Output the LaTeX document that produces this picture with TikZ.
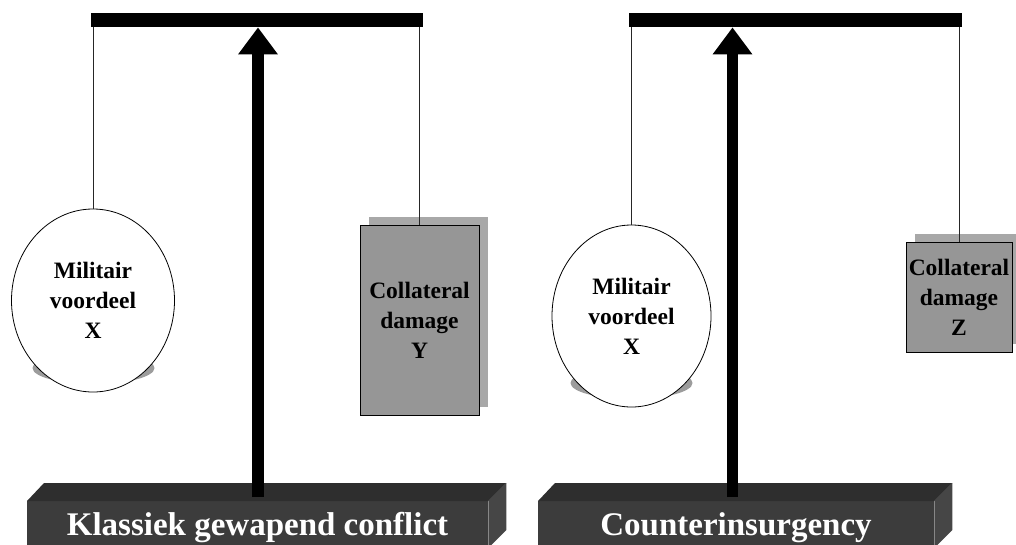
\documentclass[tikz,border=0pt]{standalone}
\usepackage{fontspec}
\setmainfont{Liberation Serif}
\usetikzlibrary{shapes.geometric,shadows,arrows.meta}

\definecolor{topface}{HTML}{2E2E2E}
\definecolor{frontface}{HTML}{3C3C3C}
\definecolor{sideface}{HTML}{464646}
\definecolor{weightgray}{HTML}{969696}
\definecolor{weightshadow}{HTML}{A8A8A8}
\definecolor{discshadow}{HTML}{9C9C9C}

\begin{document}
\begin{tikzpicture}[x=1pt,y=-1pt,
  beam/.style={fill=black, draw=none, minimum height=14pt, inner sep=0pt, anchor=north west},
  cord/.style={line width=1pt, draw=black!85},
  pivot/.style={line width=11.5pt, -{Triangle[width=38pt,length=27pt]}},
  wtext/.style={align=center, font=\bfseries\fontsize{23.5}{30}\selectfont, text=black, inner sep=0pt},
  disc/.style={ellipse, draw=black, line width=0.8pt, fill=white, inner sep=0pt, wtext},
  weight/.style={rectangle, draw=black, line width=0.8pt, fill=weightgray, inner sep=0pt, wtext,
    general shadow={fill=weightshadow, shadow xshift=9pt, shadow yshift=8pt}},
  baseface/.style={fill=frontface, draw=none, inner sep=0pt, anchor=north west},
  basetext/.style={anchor=base, text=white, font=\bfseries\fontsize{33}{40}\selectfont, inner sep=0pt}
]
\useasboundingbox (0,0) rectangle (1016,544);
\clip (0,0) rectangle (1016,544);

% ---------- left balance: classical armed conflict ----------
\node[beam, minimum width=332pt] (beamL) at (91,13) {};

\fill[discshadow] (93.5,368) ellipse [x radius=61pt, y radius=16pt];
\node[disc, minimum width=163pt, minimum height=183pt] (mvL) at (93,300.5)
  {Militair\\voordeel\\X};

\node[weight, minimum width=119pt, minimum height=190pt] (colY) at (419.5,320)
  {Collateral\\damage\\Y};

\draw[cord] (mvL.north) -- (mvL.north |- beamL.south);
\draw[cord] (colY.north) -- (colY.north |- beamL.south);

% base block
\node[baseface, minimum width=461pt, minimum height=60pt] (baseL) at (27,501) {};
\fill[topface] (baseL.north west) -- ++(17,-18) -- ([shift={(18,-18)}]baseL.north east)
  -- (baseL.north east) -- cycle;
\fill[sideface] (baseL.north east) -- ++(18,-18) -- ++(0,47) -- ++(-18,18) -- cycle;
\node[basetext] (baseLtxt) at (257.5,535) {Klassiek gewapend conflict};

\coordinate (footL) at (258,497);
\coordinate (tipL) at (footL |- beamL.south);
\draw[pivot] (footL) -- (tipL);

% ---------- right balance: counterinsurgency ----------
\node[beam, minimum width=333pt] (beamR) at (629,13) {};

\fill[discshadow] (631.5,383) ellipse [x radius=61pt, y radius=16pt];
\node[disc, minimum width=159pt, minimum height=182pt] (mvR) at (631.5,316)
  {Militair\\voordeel\\X};

\node[weight, minimum width=106pt, minimum height=110pt] (colZ) at (959,297)
  {Collateral\\damage\\Z};

\draw[cord] (mvR.north) -- (mvR.north |- beamR.south);
\draw[cord] (colZ.north) -- (colZ.north |- beamR.south);

% base block
\node[baseface, minimum width=396pt, minimum height=60pt] (baseR) at (538,501) {};
\fill[topface] (baseR.north west) -- ++(17,-18) -- ([shift={(18,-18)}]baseR.north east)
  -- (baseR.north east) -- cycle;
\fill[sideface] (baseR.north east) -- ++(18,-18) -- ++(0,47) -- ++(-18,18) -- cycle;
\node[basetext] (baseRtxt) at (736,535) {Counterinsurgency};

\coordinate (footR) at (732.5,497);
\coordinate (tipR) at (footR |- beamR.south);
\draw[pivot] (footR) -- (tipR);
\end{tikzpicture}
\end{document}
